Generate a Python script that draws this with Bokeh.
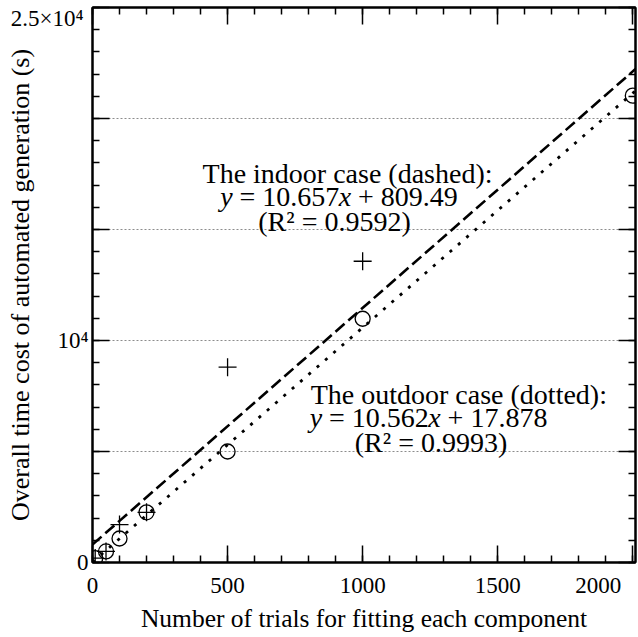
from bokeh.plotting import figure
from bokeh.models import Range1d, FixedTicker, LinearAxis, Label
from bokeh.embed import file_html
from bokeh.resources import INLINE

FONT = "Liberation Serif"

# ---- data ----
trials_outdoor = [10, 50, 100, 200, 500, 1000, 2000]
time_outdoor = [200, 500, 1080, 2260, 5000, 10980, 21030]
trials_indoor = [10, 50, 100, 200, 500, 1000]
time_indoor = [200, 500, 1710, 2260, 8800, 13570]

indoor_slope, indoor_intercept = 10.657, 809.49
outdoor_slope, outdoor_intercept = 10.562, 17.878
fit_x = [0, 2010]
indoor_fit_y = [indoor_slope * v + indoor_intercept for v in fit_x]
outdoor_fit_y = [outdoor_slope * v + outdoor_intercept for v in fit_x]

NB = "\u00a0"
x_major = [0, 500, 1000, 1500, 2000]
x_minor = list(range(0, 2001, 100))
# the last label is pushed left (as in the reference) so it stays on the page
x_tick_labels = {0: "0", 500: "500", 1000: "1000", 1500: "1500", 2000: "2000" + NB * 3}
y_major = [0, 5000, 10000, 15000, 20000, 25000]
y_minor = list(range(0, 25001, 1000))
y_tick_labels = {0: "0", 5000: "", 10000: "10\u2074", 15000: "", 20000: "", 25000: ""}
y_top_tick = [25000]
y_top_label = {25000: "2.5\u00d710\u2074"}
grid_y = [5000, 10000, 15000, 20000]

TICK_FS = "23px"

p = figure(width=638, height=637, output_backend="svg", toolbar_location=None,
           x_range=Range1d(0, 2010), y_range=Range1d(0, 25000),
           min_border_left=92, min_border_right=3, min_border_top=7, min_border_bottom=75,
           background_fill_color="white", border_fill_color="white")
p.outline_line_color = "black"
p.outline_line_width = 2

p.xgrid.visible = False
p.ygrid.ticker = FixedTicker(ticks=grid_y)
p.ygrid.grid_line_color = "#8c8c8c"
p.ygrid.grid_line_width = 1
p.ygrid.grid_line_dash = "2 2"


def style_axis(ax, major, minor, labels, show_labels):
    ax.ticker = FixedTicker(ticks=major, minor_ticks=minor)
    ax.major_tick_in = 17
    ax.major_tick_out = 0
    ax.minor_tick_in = 7
    ax.minor_tick_out = 0
    ax.major_tick_line_width = 1.5
    ax.minor_tick_line_width = 1.5
    ax.major_tick_line_color = "black"
    ax.minor_tick_line_color = "black"
    ax.axis_line_color = "black"
    ax.axis_line_width = 2
    ax.major_label_overrides = labels
    if show_labels:
        ax.major_label_text_font = FONT
        ax.major_label_text_font_size = TICK_FS
        ax.major_label_text_color = "black"
        ax.axis_label_text_font = FONT
        ax.axis_label_text_font_style = "normal"
        ax.axis_label_text_color = "black"
    else:
        ax.major_label_standoff = 0
        ax.major_label_text_font_size = "1px"


style_axis(p.xaxis[0], x_major, x_minor, x_tick_labels, True)
style_axis(p.yaxis[0], y_major, y_minor, y_tick_labels, True)
p.xaxis[0].axis_label = "Number of trials for fitting each component"
p.xaxis[0].axis_label_text_font_size = "25.5px"
p.xaxis[0].major_label_standoff = 10
p.xaxis[0].axis_label_standoff = 3
p.yaxis[0].major_label_standoff = 4

# outer left axis: carries only the top tick label (hung below the top edge) and the title
left_outer = LinearAxis(ticker=FixedTicker(ticks=y_top_tick, minor_ticks=[]),
                        major_label_overrides=y_top_label,
                        axis_line_color=None, major_tick_line_color=None,
                        minor_tick_line_color=None,
                        major_label_text_font=FONT, major_label_text_font_size=TICK_FS,
                        major_label_text_color="black", major_label_text_baseline="top",
                        major_label_text_align="right", major_label_standoff=-35,
                        axis_label="Overall time cost of automated generation (s)",
                        axis_label_text_font=FONT, axis_label_text_font_size="26px",
                        axis_label_text_font_style="normal", axis_label_text_color="black",
                        axis_label_standoff=-27)
p.add_layout(left_outer, "left")

top_ax = LinearAxis()
right_ax = LinearAxis()
style_axis(top_ax, x_major, x_minor, {t: "" for t in x_major}, False)
style_axis(right_ax, y_major, y_minor, {t: "" for t in y_major}, False)
p.add_layout(top_ax, "above")
p.add_layout(right_ax, "right")

# fit lines
p.line(fit_x, indoor_fit_y, line_color="black", line_width=2.6, line_dash="12 5")
p.line(fit_x, outdoor_fit_y, line_color="black", line_width=2.8, line_dash="3 8")

# markers
p.scatter(trials_outdoor, time_outdoor, marker="circle", size=15,
          fill_color=None, line_color="black", line_width=1.3)
p.scatter(trials_indoor, time_indoor, marker="cross", size=18,
          line_color="black", line_width=1.3)

# ---- annotations ----
def lab(x, y, text, align="left", style="normal", size="28px"):
    p.add_layout(Label(x=x, y=y, text=text, text_font=FONT, text_font_size=size,
                       text_font_style=style, text_align=align,
                       text_baseline="alphabetic", text_color="black"))

# indoor
lab(944, 17515, "The indoor case (dashed):", "center")
lab(472.8, 16479, "y", "left", "italic")
lab(543.8, 16479, "= 10.657", "left")
lab(911.6, 16479, "x", "left", "italic")
lab(983.1, 16479, "+ 809.49", "left")
lab(896, 15353, "(R\u00b2 = 0.9592)", "center")

# outdoor
lab(1356, 7564, "The outdoor case (dotted):", "center")
lab(804.1, 6529, "y", "left", "italic")
lab(875.6, 6529, "= 10.562", "left")
lab(1243, 6529, "x", "left", "italic")
lab(1314.4, 6529, "+ 17.878", "left")
lab(1253, 5403, "(R\u00b2 = 0.9993)", "center")

open("out.html", "w").write(file_html(p, INLINE))
